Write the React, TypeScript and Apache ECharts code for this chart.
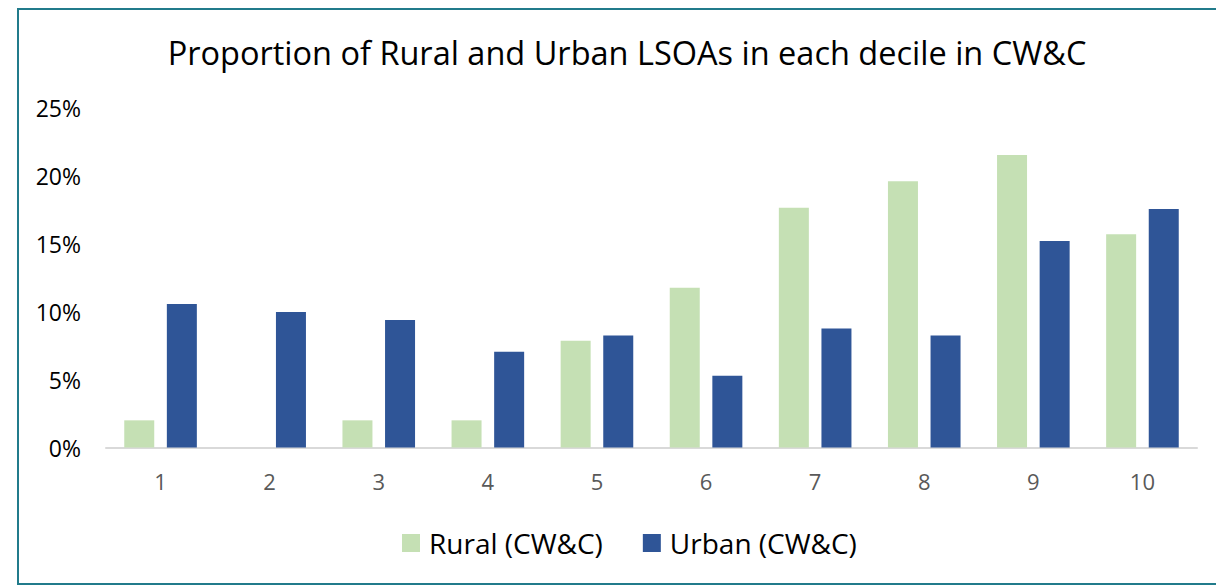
import React, { useEffect, useRef } from "react";
import * as echarts from "echarts";

const categories = ["1", "2", "3", "4", "5", "6", "7", "8", "9", "10"];
const ruralValues = [2.0, 0, 2.0, 2.0, 7.87, 11.76, 17.65, 19.6, 21.54, 15.7];
const urbanValues = [10.57, 9.98, 9.39, 7.06, 8.24, 5.29, 8.77, 8.24, 15.2, 17.57];
const seriesNames = ["Rural (CW&C)", "Urban (CW&C)"];
const titleText = "Proportion of Rural and Urban LSOAs in each decile in CW&C";

const FONT = "'Open Sans', 'Noto Sans', sans-serif";

export default function App() {
  const ref = useRef<HTMLDivElement>(null);
  useEffect(() => {
    if (!ref.current) return;
    const chart = echarts.init(ref.current, undefined, { renderer: "svg" });
    chart.setOption({
      animation: false,
      backgroundColor: "#ffffff",
      graphic: [
        {
          type: "rect",
          shape: { x: 18, y: 9, width: 1230, height: 575 },
          style: { fill: "none", stroke: "#217b8b", lineWidth: 2 },
          silent: true,
        },
      ],
      title: {
        text: titleText,
        left: 622,
        textAlign: "center",
        top: 31,
        textStyle: { fontFamily: FONT, fontSize: 32.5, fontWeight: "normal", color: "#000000" },
      },
      legend: {
        data: seriesNames,
        left: 397,
        top: 524,
        itemWidth: 18,
        itemHeight: 18,
        itemGap: 40,
        icon: "rect",
        textStyle: { fontFamily: FONT, fontSize: 28, color: "#000000", padding: [0, 0, 0, 4] },
      },
      grid: { left: 106, right: 19, top: 108, bottom: 137.5, containLabel: false },
      xAxis: {
        type: "category",
        data: categories,
        axisLine: { show: true, lineStyle: { color: "#d9d9d9", width: 2 } },
        axisTick: { show: false },
        axisLabel: { fontFamily: FONT, fontSize: 22, color: "#595959", margin: 22 },
      },
      yAxis: {
        type: "value",
        min: 0,
        max: 25,
        interval: 5,
        axisLine: { show: false },
        axisTick: { show: false },
        splitLine: { show: false },
        axisLabel: { fontFamily: FONT, fontSize: 23, color: "#000000", margin: 25, formatter: "{value}%" },
      },
      series: [
        {
          name: seriesNames[0],
          type: "bar",
          data: ruralValues,
          barWidth: 30,
          barGap: "42%",
          itemStyle: { color: "#c5e0b4" },
        },
        {
          name: seriesNames[1],
          type: "bar",
          data: urbanValues,
          barWidth: 30,
          barGap: "42%",
          itemStyle: { color: "#2f5597" },
        },
      ],
    });
    return () => chart.dispose();
  }, []);
  return (
    <div
      ref={ref}
      style={{ position: "fixed", left: 0, top: 0, width: 1216, height: 585, background: "#fff" }}
    />
  );
}
